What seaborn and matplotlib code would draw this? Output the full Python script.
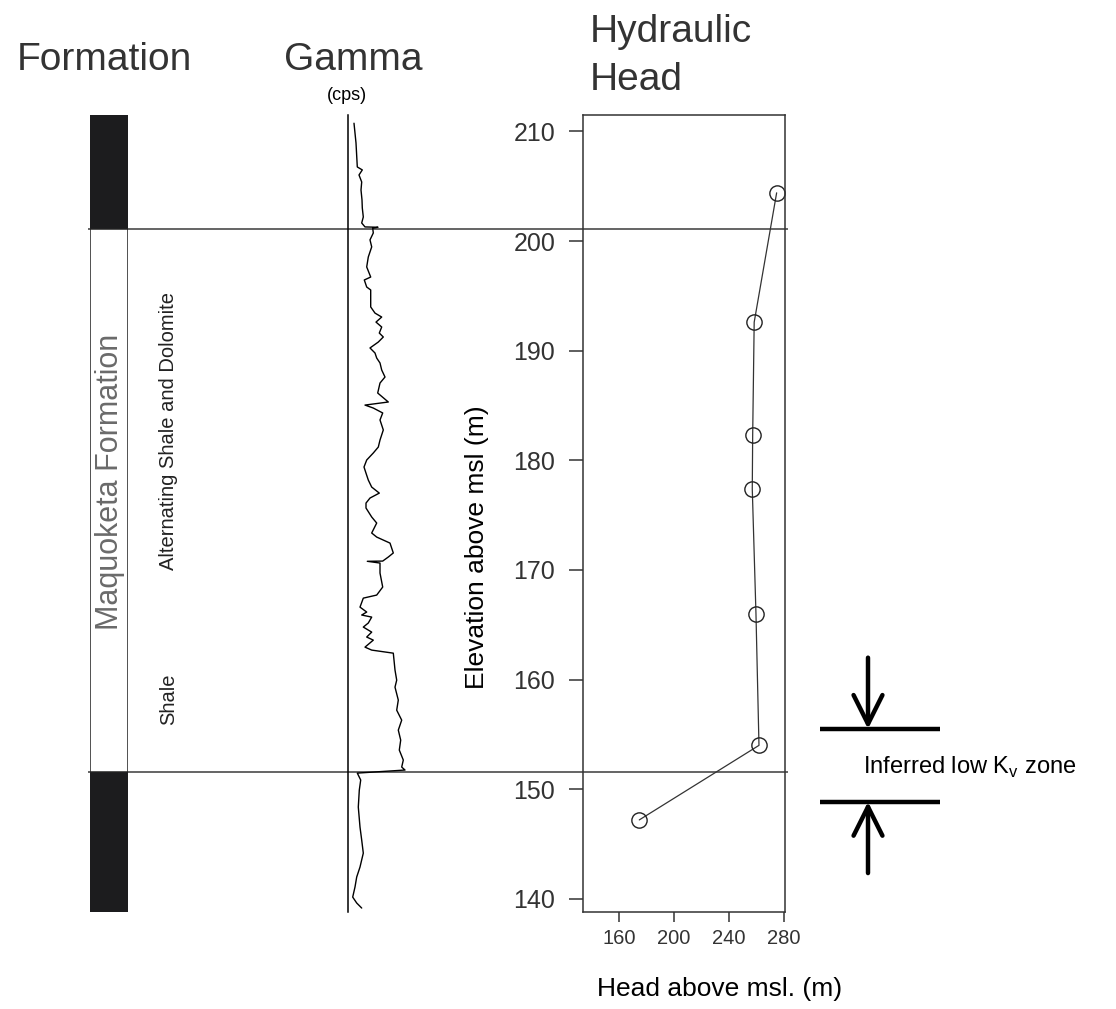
import matplotlib
matplotlib.use("Agg")
import matplotlib.pyplot as plt
import seaborn as sns

# Hydraulic head in each monitored interval
interval_elevation_m = [204.4, 192.6, 182.3, 177.4, 166.0, 154.0, 147.2]
head_m = [274.9, 258.5, 257.4, 257.1, 259.8, 262.0, 174.6]

# Natural gamma log (elevation, counts per second)
gamma_elevation_m = [
    210.75, 208.95, 206.76, 206.49, 206.03, 205.39, 204.66, 203.75, 203.02, 202.20,
    201.65, 201.29, 201.26, 201.17, 200.74, 200.11, 199.47, 198.55, 197.64, 196.72,
    196.45, 195.81, 195.54, 193.99, 193.43, 193.07, 192.61, 192.16, 191.61, 191.25,
    190.79, 190.25, 189.79, 189.33, 188.88, 188.24, 187.60, 187.05, 186.14, 185.32,
    185.04, 184.77, 184.32, 183.68, 182.77, 181.85, 181.21, 180.67, 180.03, 179.39,
    178.83, 178.20, 177.56, 177.01, 176.56, 176.10, 175.65, 174.83, 174.28, 173.37,
    173.00, 172.45, 171.55, 171.18, 170.81, 170.79, 170.63, 169.72, 168.44, 167.71,
    167.43, 166.61, 166.16, 165.89, 165.70, 165.16, 164.79, 164.33, 163.88, 163.60,
    162.96, 162.69, 162.41, 161.78, 160.87, 159.95, 159.31, 158.13, 157.21, 156.30,
    155.39, 154.48, 153.57, 152.66, 152.02, 151.75, 151.47, 150.84, 149.92, 148.37,
    146.55, 145.36, 144.17, 142.90, 141.99, 141.08, 140.16, 139.62, 139.16,
]
gamma_cps = [
    6.0, 8.0, 9.3, 14.3, 11.0, 13.7, 13.0, 14.0, 14.3, 15.3,
    13.7, 17.0, 30.0, 24.7, 25.3, 22.0, 23.7, 20.3, 18.7, 22.7,
    16.3, 18.7, 22.7, 22.7, 27.0, 33.7, 28.0, 33.7, 31.3, 35.3,
    30.3, 22.0, 27.0, 28.7, 32.0, 33.7, 37.0, 32.0, 29.7, 40.3,
    17.0, 25.3, 34.7, 32.0, 35.3, 32.0, 30.3, 25.3, 18.7, 16.0,
    18.0, 20.3, 23.7, 31.3, 22.0, 18.0, 18.0, 23.7, 28.7, 23.7,
    28.7, 42.0, 45.3, 40.3, 34.7, 19.3, 32.0, 32.0, 34.7, 28.7,
    15.3, 12.0, 18.7, 13.7, 23.7, 20.3, 15.3, 23.7, 18.7, 25.3,
    17.0, 23.7, 45.3, 46.0, 47.0, 48.7, 47.0, 50.3, 48.7, 53.7,
    50.3, 52.7, 51.3, 55.3, 53.7, 57.0, 9.3, 12.7, 11.3, 10.3,
    12.0, 13.7, 15.3, 12.0, 8.7, 7.0, 4.7, 8.7, 13.7,
]
assert len(gamma_elevation_m) == len(gamma_cps)

# Stratigraphy
formation_name = "Maquoketa Formation"
formation_top_m = 201.1
formation_base_m = 151.6
lithology_labels = ["Alternating Shale and Dolomite", "Shale"]
lithology_label_elev_m = [182.7, 158.2]

# Inferred zone of low vertical hydraulic conductivity
low_kv_top_m = 155.5
low_kv_base_m = 148.85

elevation_ticks = [140, 150, 160, 170, 180, 190, 200, 210]
head_ticks = [160, 200, 240, 280]
elevation_limits = (138.8, 211.5)
head_limits = (133.5, 281.0)

sns.set_theme(style="white")
plt.rcParams["font.family"] = ["Liberation Sans", "DejaVu Sans"]
plt.rcParams["mathtext.fontset"] = "custom"
plt.rcParams["mathtext.rm"] = "Liberation Sans"

W, H = 1116, 1009
fig = plt.figure(figsize=(W / 100, H / 100), dpi=100)
fig.patch.set_facecolor("white")

TXT = "#333333"
INK = "#222222"


def panel(left, top, right, bottom, **kw):
    ax = fig.add_axes([left / W, 1 - bottom / H, (right - left) / W, (bottom - top) / H], **kw)
    ax.patch.set_alpha(0)
    return ax


# main hydraulic head panel
ax_head = panel(583, 115, 785, 912)

# background strip for the formation boundaries, spanning all tracks
ax_bg = panel(88, 115, 788, 912, sharey=ax_head)
ax_bg.set_zorder(-1)
ax_bg.set_xlim(88, 788)
ax_bg.axis("off")
for z in (formation_top_m, formation_base_m):
    ax_bg.axhline(z, color="#3a3a3a", lw=1.1)

# formation column
ax_form = panel(90, 115, 128, 912, sharey=ax_head)
ax_form.set_xlim(0, 1)
ax_form.axis("off")
ax_form.axhspan(formation_top_m, elevation_limits[1], color="#1c1c1e", lw=0)
ax_form.axhspan(elevation_limits[0], formation_base_m, color="#1c1c1e", lw=0)
ax_form.axhspan(formation_base_m, formation_top_m, facecolor="white", edgecolor=INK, lw=1.1)
ax_form.text(0.52, (formation_top_m + formation_base_m) / 2 + 1.7, formation_name,
             rotation=90, ha="center", va="center", fontsize=22, color="#6a6a6a")

# lithology descriptions
for lab, z in zip(lithology_labels, lithology_label_elev_m):
    ax_bg.text(169, z, lab, rotation=90, ha="center", va="center", fontsize=14.5, color=INK)

# gamma track
ax_gam = panel(348, 115, 448, 912, sharey=ax_head)
sns.lineplot(x=gamma_cps, y=gamma_elevation_m, sort=False, estimator=None,
             ax=ax_gam, color="black", lw=1.0)
ax_gam.set_xlim(0, 100)
for s in ("top", "right", "bottom"):
    ax_gam.spines[s].set_visible(False)
ax_gam.spines["left"].set_color("black")
ax_gam.spines["left"].set_linewidth(1.1)
ax_gam.tick_params(left=False, bottom=False, labelleft=False, labelbottom=False)
ax_gam.set_xlabel("")
ax_gam.set_ylabel("")

# head profile
sns.lineplot(x=head_m, y=interval_elevation_m, sort=False, estimator=None, ax=ax_head,
             color="#333333", lw=0.9, marker="o", markersize=11,
             markerfacecolor="none", markeredgecolor=INK, markeredgewidth=1.0)
ax_head.set_xlim(*head_limits)
ax_head.set_ylim(*elevation_limits)
ax_head.set_xticks(head_ticks)
ax_head.set_yticks(elevation_ticks)
for s in ax_head.spines.values():
    s.set_visible(True)
    s.set_color("#333333")
    s.set_linewidth(1.1)
ax_head.tick_params(axis="y", left=True, length=10, width=1.1, pad=10,
                    labelsize=18, colors=TXT, direction="out")
ax_head.tick_params(axis="x", bottom=True, length=7, width=1.1, pad=5,
                    labelsize=14.5, colors=TXT, direction="out")
ax_head.set_ylabel("Elevation above msl (m)", fontsize=19, color="black")
ax_head.yaxis.set_label_coords(-0.466, 0.458)
ax_head.set_xlabel("Head above msl. (m)", fontsize=19, color="black")
ax_head.xaxis.set_label_coords(0.678, -0.082)

# low Kv zone markers
ax_kv = panel(800, 115, 1116, 912, sharey=ax_head)
ax_kv.set_xlim(0, 1)
ax_kv.axis("off")
bar_x0, bar_x1, arrow_x = 20 / 316, 140 / 316, 68 / 316
for z in (low_kv_top_m, low_kv_base_m):
    ax_kv.plot([bar_x0, bar_x1], [z, z], color="black", lw=3.2, solid_capstyle="butt")
ax_kv.annotate("", xy=(arrow_x, low_kv_top_m), xytext=(arrow_x, low_kv_top_m + 6.5),
               arrowprops=dict(arrowstyle="->", lw=3.2, color="black",
                               mutation_scale=52, shrinkA=0, shrinkB=0))
ax_kv.annotate("", xy=(arrow_x, low_kv_base_m), xytext=(arrow_x, low_kv_base_m - 6.5),
               arrowprops=dict(arrowstyle="->", lw=3.2, color="black",
                               mutation_scale=52, shrinkA=0, shrinkB=0))
ax_kv.text(63 / 316, (low_kv_top_m + low_kv_base_m) / 2 - 0.2,
           r"Inferred low K$_\mathregular{v}$ zone", fontsize=17, va="center", ha="left",
           color="black")

# track titles
fig.text(104 / W, 1 - 70 / H, "Formation", fontsize=28, color=TXT, ha="center", va="baseline")
fig.text(353 / W, 1 - 70 / H, "Gamma", fontsize=28, color=TXT, ha="center", va="baseline")
fig.text(347 / W, 1 - 95 / H, "(cps)", fontsize=13, color="black", ha="center", va="center")
fig.text(590 / W, 1 - 42 / H, "Hydraulic", fontsize=28, color=TXT, ha="left", va="baseline")
fig.text(590 / W, 1 - 90 / H, "Head", fontsize=28, color=TXT, ha="left", va="baseline")

fig.savefig("out.png", dpi=100, facecolor="white")
